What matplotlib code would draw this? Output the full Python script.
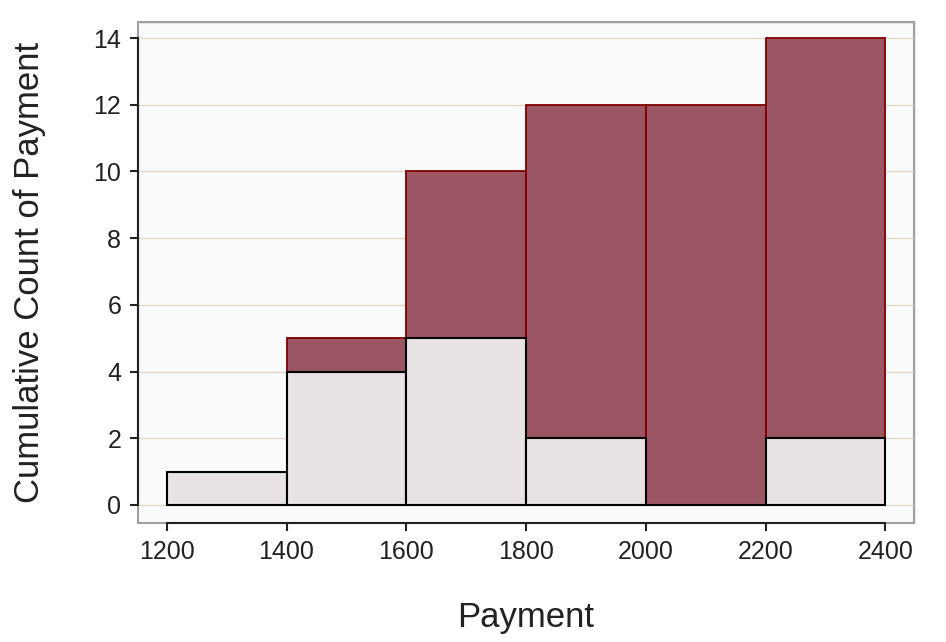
import matplotlib
matplotlib.use("Agg")
import matplotlib.pyplot as plt
import numpy as np

plt.rcParams['font.family'] = ['Liberation Sans', 'DejaVu Sans']

# bin edges and per-bin counts of Payment
bin_edges = [1200, 1400, 1600, 1800, 2000, 2200, 2400]
counts = [1, 4, 5, 2, 0, 2]
cumulative = np.cumsum(counts)

fig = plt.figure(figsize=(9.46, 6.42), dpi=100)
ax = fig.add_axes([0.1459, 0.1854, 0.8203, 0.7803])
ax.set_facecolor('#fafafa')

lefts = np.array(bin_edges[:-1])
widths = np.diff(bin_edges)

ax.bar(lefts, cumulative, width=widths, align='edge', color='#9b5563',
       edgecolor='#800000', linewidth=1.3, zorder=2)
ax.bar(lefts, counts, width=widths, align='edge', color='#e8e2e2',
       edgecolor='black', linewidth=1.5, zorder=3)

ax.set_xlim(1152, 2448)
ax.set_ylim(-0.54, 14.48)
ax.set_xticks(bin_edges)
ax.set_yticks(range(0, 15, 2))
ax.yaxis.grid(True, color='#dcd9cc', linewidth=1, zorder=0)
ax.set_axisbelow(True)

for s in ['top', 'right']:
    ax.spines[s].set_color('#a0a0a0')
    ax.spines[s].set_linewidth(1)
for s in ['left', 'bottom']:
    ax.spines[s].set_color('#222222')
    ax.spines[s].set_linewidth(1.5)
ax.spines['left'].set_bounds(0, 14)
ax.spines['bottom'].set_bounds(1200, 2400)
ax.patch.set_edgecolor('#a0a0a0')
ax.patch.set_linewidth(1.5)

ax.tick_params(axis='both', direction='out', length=6, width=1.5,
               color='#222222', labelsize=18, labelcolor='#222222', pad=6)

ax.set_xlabel('Payment', fontsize=25, color='#222222', labelpad=27)
ax.set_ylabel('Cumulative Count of Payment', fontsize=25, color='#222222', labelpad=34)

fig.savefig('out.png', dpi=100)
